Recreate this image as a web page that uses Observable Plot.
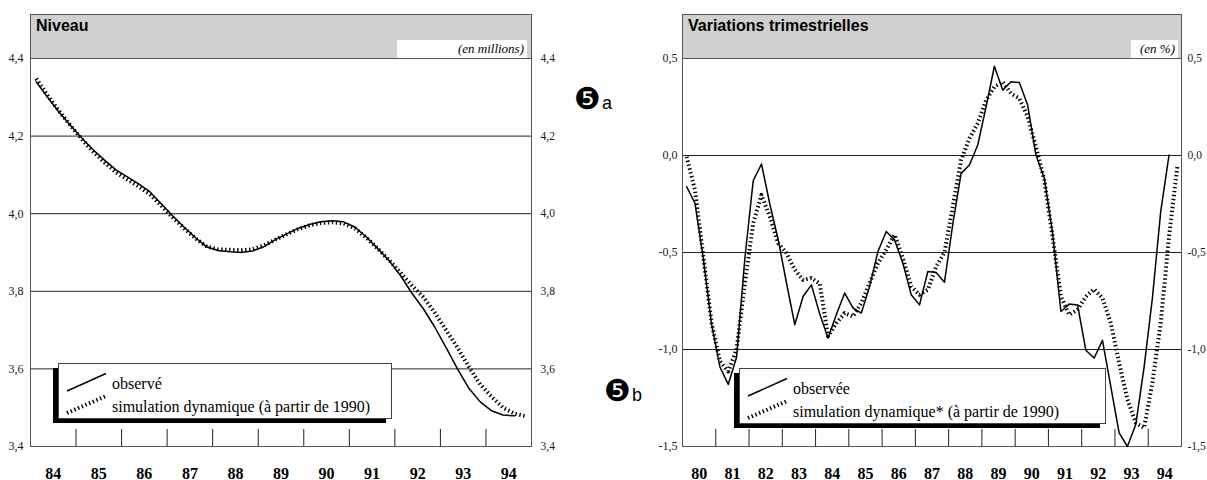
<!DOCTYPE html>
<html><head><meta charset="utf-8">
<script src="https://cdn.jsdelivr.net/npm/d3@7"></script>
<script src="https://cdn.jsdelivr.net/npm/@observablehq/plot@0.6"></script>
<style>
body{margin:0;width:1207px;height:480px;position:relative;background:#fff;overflow:hidden}
#left{position:absolute;left:0;top:0}
#right{position:absolute;left:600px;top:0}
#deco{position:absolute;left:0;top:0;pointer-events:none}
</style></head>
<body>
<div id="left"></div><div id="right"></div>
<svg id="deco" width="1207" height="480"></svg>
<script>
// ---- data ----
const leftYears = [84,85,86,87,88,89,90,91,92,93,94];
const leftYTicks = [3.4,3.6,3.8,4.0,4.2,4.4];
// quarterly level (millions), 84T1 ...
const leftObserved = [4.340,4.300,4.262,4.228, 4.195,4.165,4.138,4.113, 4.095,4.077,4.056,4.025,
  3.994,3.965,3.938,3.914, 3.905,3.902,3.900,3.904, 3.915,3.933,3.948,3.962, 3.972,3.979,3.982,3.979,
  3.965,3.940,3.910,3.879, 3.840,3.795,3.755,3.708, 3.655,3.600,3.550,3.515, 3.492,3.481,3.479];
const leftSimulated = [4.348,4.305,4.265,4.228, 4.192,4.160,4.132,4.107, 4.088,4.070,4.050,4.020,
  3.990,3.962,3.936,3.915, 3.908,3.907,3.906,3.908, 3.918,3.933,3.947,3.960, 3.970,3.976,3.978,3.975,
  3.962,3.938,3.910,3.880, 3.848,3.815,3.785,3.745, 3.700,3.655,3.605,3.560, 3.528,3.500,3.485,3.478];

const rightYears = [80,81,82,83,84,85,86,87,88,89,90,91,92,93,94];
const rightYTicks = [-1.5,-1.0,-0.5,0,0.5];
// quarterly variation (%), 80T1 ...
const rightObserved = [-0.161,-0.246,-0.53,-0.87, -1.09,-1.18,-1.04,-0.53, -0.13,-0.044,-0.25,-0.433,
  -0.656,-0.872,-0.727,-0.667, -0.817,-0.941,-0.82,-0.709, -0.786,-0.812,-0.675,-0.495,
  -0.392,-0.435,-0.555,-0.718, -0.77,-0.598,-0.603,-0.653, -0.354,-0.092,-0.049,0.054,
  0.251,0.46,0.337,0.38, 0.376,0.26,0.002,-0.117, -0.40,-0.804,-0.766,-0.77,
  -1.004,-1.044,-0.953,-1.191, -1.43,-1.50,-1.387,-1.092, -0.735,-0.289,0.002];
const rightSimulated = [-0.006,-0.178,-0.52,-0.864, -1.061,-1.113,-1.00,-0.658, -0.349,-0.203,-0.315,-0.452,
  -0.503,-0.589,-0.641,-0.632, -0.66,-0.932,-0.864,-0.812, -0.83,-0.76,-0.658,-0.555,
  -0.486,-0.409,-0.529,-0.675, -0.718,-0.692,-0.572,-0.5, -0.264,-0.023,0.088,0.166,
  0.285,0.354,0.38,0.32, 0.294,0.20,0.045,-0.126, -0.418,-0.727,-0.821,-0.795,
  -0.727,-0.689,-0.735,-0.864, -1.07,-1.258,-1.378,-1.404, -1.172,-0.864,-0.418,-0.058];

const fmt = d => d.toFixed(1).replace(".", ",");

function panel({years, yTicks, obs, sim, width, marginLeft, marginRight, padL, padR}) {
  const x0 = years[0], x1 = years[years.length - 1] + 1;
  const pts = arr => arr.map((v, i) => ({t: x0 + (i + 0.5) / 4, v}));
  const ymin = d3.min(yTicks), ymax = d3.max(yTicks);
  const H = 480, mt = 58, mb = 34;
  const tickLen = (ymax - ymin) * 17 / (H - mt - mb);
  return Plot.plot({
    width, height: H, marginLeft, marginRight, marginTop: mt, marginBottom: mb,
    x: {domain: [x0, x1], axis: null},
    y: {domain: [ymin, ymax], axis: null},
    style: {fontFamily: "'Liberation Serif', serif", fontSize: "12px", color: "#1a1a1a", background: "transparent", overflow: "visible"},
    marks: [
      Plot.ruleY(yTicks, {stroke: "#222", strokeWidth: 1}),
      Plot.frame({stroke: "#555"}),
      Plot.ruleX(years.slice(1), {y1: ymin, y2: ymin + tickLen, stroke: "#222", strokeWidth: 1}),
      Plot.axisY({anchor: "left", ticks: yTicks, tickSize: 0, tickPadding: padL, tickFormat: fmt, label: null, fontSize: 12}),
      Plot.axisY({anchor: "right", ticks: yTicks, tickSize: 0, tickPadding: padR, tickFormat: fmt, label: null, fontSize: 11.5}),
      Plot.text(years, {x: d => d + 0.5, y: ymin, dy: 27, text: d => String(d), fontWeight: "bold", fontSize: 16, fill: "#000"}),
      Plot.line(pts(sim), {x: "t", y: "v", stroke: "#000", strokeWidth: 4, strokeDasharray: "1.4,2.6", strokeLinecap: "butt"}),
      Plot.line(pts(obs), {x: "t", y: "v", stroke: "#000", strokeWidth: 1.5})
    ]
  });
}

document.getElementById("left").append(panel({years: leftYears, yTicks: leftYTicks, obs: leftObserved, sim: leftSimulated,
  width: 600, marginLeft: 30, marginRight: 69, padL: 7, padR: 9}));
document.getElementById("right").append(panel({years: rightYears, yTicks: rightYTicks, obs: rightObserved, sim: rightSimulated,
  width: 607, marginLeft: 82, marginRight: 26, padL: 5, padR: 6}));

// ---- headers, legends, labels ----
const deco = d3.select("#deco");
function header(x, w, title, unit, unitX, unitW) {
  deco.append("rect").attr("x", x + 0.5).attr("y", 14.5).attr("width", w).attr("height", 44)
    .attr("fill", "#d0d0d0").attr("stroke", "#555");
  deco.append("text").attr("x", x + 6).attr("y", 31).attr("font-family", "'Liberation Sans', Arial, sans-serif")
    .attr("font-weight", "bold").attr("font-size", 16).text(title);
  deco.append("rect").attr("x", unitX).attr("y", 40).attr("width", unitW).attr("height", 18).attr("fill", "#fff");
  deco.append("text").attr("x", unitX + unitW - 3).attr("y", 53).attr("text-anchor", "end")
    .attr("font-family", "'Liberation Serif', serif").attr("font-style", "italic").attr("font-size", 13).text(unit);
}
header(30, 501, "Niveau", "(en millions)", 397, 130);
header(682, 499, "Variations trimestrielles", "(en %)", 1131, 47);

function legend(x, y, w, labels) {
  const h = 55;
  deco.append("rect").attr("x", x - 5).attr("y", y + 5).attr("width", w).attr("height", h).attr("fill", "#000");
  deco.append("rect").attr("x", x + 0.5).attr("y", y + 0.5).attr("width", w).attr("height", h)
    .attr("fill", "#fff").attr("stroke", "#444");
  deco.append("line").attr("x1", x + 9).attr("y1", y + 28).attr("x2", x + 48).attr("y2", y + 10.5)
    .attr("stroke", "#000").attr("stroke-width", 1.5);
  deco.append("line").attr("x1", x + 9).attr("y1", y + 50).attr("x2", x + 47).attr("y2", y + 33.5)
    .attr("stroke", "#000").attr("stroke-width", 4).attr("stroke-dasharray", "1.4,2.6");
  labels.forEach((t, i) => deco.append("text").attr("x", x + 54).attr("y", y + 26 + i * 22.5)
    .attr("font-family", "'Liberation Serif', serif").attr("font-size", 16).text(t));
}
legend(58, 363, 333, ["observé", "simulation dynamique (à partir de 1990)"]);
legend(739, 368, 366, ["observée", "simulation dynamique* (à partir de 1990)"]);

function mark(x, y, letter) {
  deco.append("text").attr("x", x).attr("y", y).attr("font-family", "'DejaVu Sans', sans-serif")
    .attr("font-size", 30).text("❺");
  deco.append("text").attr("x", x + 28).attr("y", y).attr("font-family", "'Liberation Sans', Arial, sans-serif")
    .attr("font-size", 18).text(letter);
}
mark(574, 109, "a");
mark(604, 401, "b");
</script>
</body></html>
